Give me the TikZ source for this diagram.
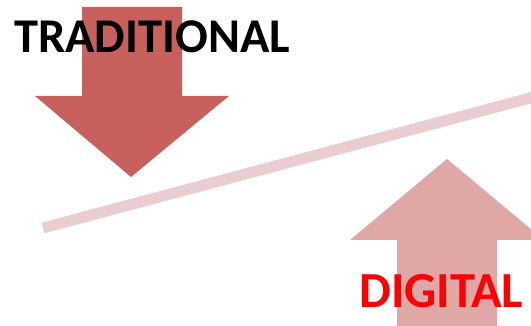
\documentclass[tikz,border=0pt]{standalone}
\usepackage{fontspec}
\setmainfont{Carlito}
\definecolor{downred}{RGB}{200,96,94}
\definecolor{uppink}{RGB}{224,167,167}
\definecolor{beampink}{RGB}{233,205,207}
\tikzset{label text/.style={inner sep=0pt,anchor=base west,font=\bfseries}}
\begin{document}
\begin{tikzpicture}[x=1pt,y=-1pt]
	\useasboundingbox (0,0) rectangle (531,326);
	\clip (0,0) rectangle (531,326);
	%\draw[help lines] (0,0) grid (531,326);
	\fill[downred] (82,7)--(182,7)--(182,96)--(229,96)--(131,177)--(35,96)--(82,96)--cycle;
	\draw[beampink,line width=11pt] (43,228)--(560,90);
	\fill[uppink] (447,159)--(544,240)--(497,240)--(497,330)--(397,330)--(397,240)--(350,240)--cycle;
	\node[label text,text=black] (trad) at (14,53) {\fontsize{48.5}{48.5}\selectfont TRADITIONAL};
	\node[label text,text=red] (dig) at (359,308) {\fontsize{50.5}{50.5}\selectfont DIGITAL};
\end{tikzpicture}
\end{document}
